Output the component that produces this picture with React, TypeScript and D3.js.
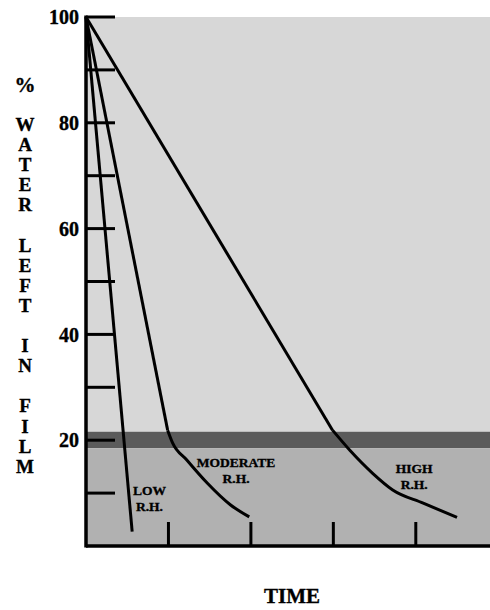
import React from "react";
import * as d3 from "d3";

// Chart data (time in tick units, % water left)
const yTickValues = [0, 10, 20, 30, 40, 50, 60, 70, 80, 90, 100];
const yTickLabels = [20, 40, 60, 80, 100];
const xTickValues = [1, 2, 3, 4];
const bandLow = 18.5;
const bandHigh = 21.6;

const lowRH: [number, number][] = [[0, 100], [0.56, 2.7]];
const moderateHead: [number, number][] = [[0, 100], [0.99, 21.9]];
const moderateTail: [number, number][] = [[0.99, 21.9], [1.05, 19.5], [1.22, 16.3], [1.47, 11.9], [1.75, 7.8], [1.98, 5.5]];
const highHead: [number, number][] = [[0, 100], [2.99, 21.9]];
const highTail: [number, number][] = [[2.99, 21.9], [3.2, 18.1], [3.48, 13.7], [3.72, 10.6], [4.09, 8.1], [4.5, 5.4]];

const titleLetters = ["%", "", "W", "A", "T", "E", "R", "", "L", "E", "F", "T", "", "I", "N", "", "F", "I", "L", "M"];

const curveLabels = [
  { lines: ["LOW", "R.H."], x: 0.77, y: 10.6 },
  { lines: ["MODERATE", "R.H."], x: 1.82, y: 15.9 },
  { lines: ["HIGH", "R.H."], x: 3.98, y: 14.7 },
];

export default function App() {
  const W = 490, H = 610;
  const x = d3.scaleLinear().domain([0, 4.9]).range([86, 490]);
  const y = d3.scaleLinear().domain([0, 100]).range([546, 17]);
  const straight = d3.line<[number, number]>().x(d => x(d[0])).y(d => y(d[1]));
  const smooth = d3.line<[number, number]>().x(d => x(d[0])).y(d => y(d[1])).curve(d3.curveMonotoneX);
  const serif = "'Liberation Serif', 'DejaVu Serif', serif";
  const x0 = x(0), x1 = x(4.9);
  const heavy = { stroke: "#000", strokeWidth: 0.35 };

  return (
    <svg width={W} height={H} style={{ position: "absolute", left: 0, top: 0, background: "#fff" }}>
      {/* background zones */}
      <rect x={x0} y={y(100)} width={x1 - x0} height={y(bandHigh) - y(100)} fill="#d7d7d7" />
      <rect x={x0} y={y(bandHigh)} width={x1 - x0} height={y(bandLow) - y(bandHigh)} fill="#5b5b5b" />
      <rect x={x0} y={y(bandLow)} width={x1 - x0} height={y(0) - y(bandLow)} fill="#b1b1b1" />

      {/* y ticks */}
      {yTickValues.filter(v => v > 0).map(v => (
        <line key={"yt" + v} x1={x0} x2={x0 + 29} y1={y(v)} y2={y(v)} stroke="#000" strokeWidth={3} />
      ))}
      {/* x ticks */}
      {xTickValues.map(v => (
        <line key={"xt" + v} x1={x(v)} x2={x(v)} y1={y(0)} y2={y(0) - 24} stroke="#000" strokeWidth={3} />
      ))}

      {/* axes */}
      <line x1={x0} x2={x0} y1={y(100) - 1.5} y2={y(0) + 1.5} stroke="#000" strokeWidth={3.5} />
      <line x1={x0} x2={x1} y1={y(0)} y2={y(0)} stroke="#000" strokeWidth={3.5} />

      {/* curves */}
      <g fill="none" stroke="#000" strokeWidth={3}>
        <path d={straight(lowRH) || ""} />
        <path d={straight(moderateHead) || ""} />
        <path d={smooth(moderateTail) || ""} />
        <path d={straight(highHead) || ""} />
        <path d={smooth(highTail) || ""} />
      </g>

      {/* curve labels */}
      {curveLabels.map((c, i) => (
        <text key={"cl" + i} x={x(c.x)} y={y(c.y)} textAnchor="middle" fontFamily={serif} fontWeight="bold" fontSize={13.5} {...heavy}>
          {c.lines.map((l, j) => (
            <tspan key={j} x={x(c.x)} dy={j === 0 ? "0.35em" : "1.2em"}>{l}</tspan>
          ))}
        </text>
      ))}

      {/* y tick labels */}
      {yTickLabels.map(v => (
        <text key={"yl" + v} x={79} y={y(v)} dy="0.36em" textAnchor="end" fontFamily={serif} fontWeight="bold" fontSize={20} {...heavy}>
          {v}
        </text>
      ))}

      {/* y title, stacked letters */}
      {titleLetters.map((ch, i) => (
        ch ? (
          <text key={"tl" + i} x={25} y={84 + 20.1 * i} dy="0.36em" textAnchor="middle" fontFamily={serif} fontWeight="bold" fontSize={ch === "%" ? 21 : 19} {...heavy}>
            {ch}
          </text>
        ) : null
      ))}

      {/* x title */}
      <text x={292} y={603} textAnchor="middle" fontFamily={serif} fontWeight="bold" fontSize={21} {...heavy}>TIME</text>
    </svg>
  );
}
